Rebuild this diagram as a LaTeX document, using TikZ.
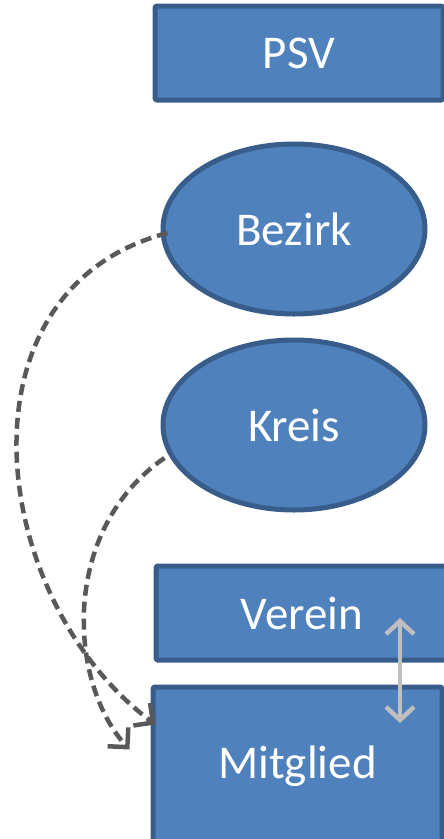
\documentclass[tikz,border=0pt]{standalone}
\usepackage{fontspec}
\setmainfont{Carlito}
\usetikzlibrary{shapes.geometric,arrows.meta}
\definecolor{boxfill}{HTML}{4F81BD}
\definecolor{boxline}{HTML}{385D8A}
\definecolor{dashgray}{HTML}{595959}
\definecolor{lightgray}{HTML}{BFBFBF}
\begin{document}
\begin{tikzpicture}[x=1pt,y=-1pt,line join=round,
    font=\fontsize{47}{50}\selectfont,
    box/.style={draw=boxline,fill=boxfill,line width=5pt,rounded corners=1.5pt,text=white,inner sep=0pt},
    oval/.style={ellipse,draw=boxline,fill=boxfill,line width=5pt,text=white,inner sep=0pt,
        minimum width=262pt,minimum height=170pt},
    dasharrow/.style={draw=dashgray,line width=4.5pt,dash pattern=on 11pt off 6pt,
        -{Straight Barb[length=14pt,width=28pt,line width=4.5pt]}},
    dblarrow/.style={draw=lightgray,line width=4.5pt,
        {Straight Barb[length=13pt,width=28pt,line width=4.5pt]}-{Straight Barb[length=13pt,width=28pt,line width=4.5pt]}}]
    \useasboundingbox (0,0) rectangle (444,839);
    \node[box,minimum width=288pt,minimum height=94pt] (psv) at (299,53) {PSV};
    \node[oval] (bezirk) at (294,229) {Bezirk};
    \node[oval] (kreis) at (294,425) {Kreis};
    \node[box,minimum width=292pt,minimum height=94pt] (verein) at (302,613) {Verein};
    \node[box,minimum width=289pt,minimum height=158pt] (mitglied) at (297.5,766) {};
    \node[text=white] (mitgliedtext) at (297.5,766) {Mitglied};
    % dashed connectors
    \draw[dasharrow] ([xshift=7pt,yshift=-4pt]bezirk.west)
        .. controls (-50,290) and (-12,600) .. ([xshift=5pt,yshift=-40pt]mitglied.north west);
    \draw[dasharrow] ([xshift=4pt,yshift=-33pt]kreis.west)
        .. controls (60,530) and (68,682) .. ([xshift=-21pt,yshift=-65pt]mitglied.north west);
    \draw[dblarrow] ([xshift=98pt,yshift=-5pt]verein.center) -- ([xshift=102.5pt,yshift=43pt]mitglied.center);
\end{tikzpicture}
\end{document}
